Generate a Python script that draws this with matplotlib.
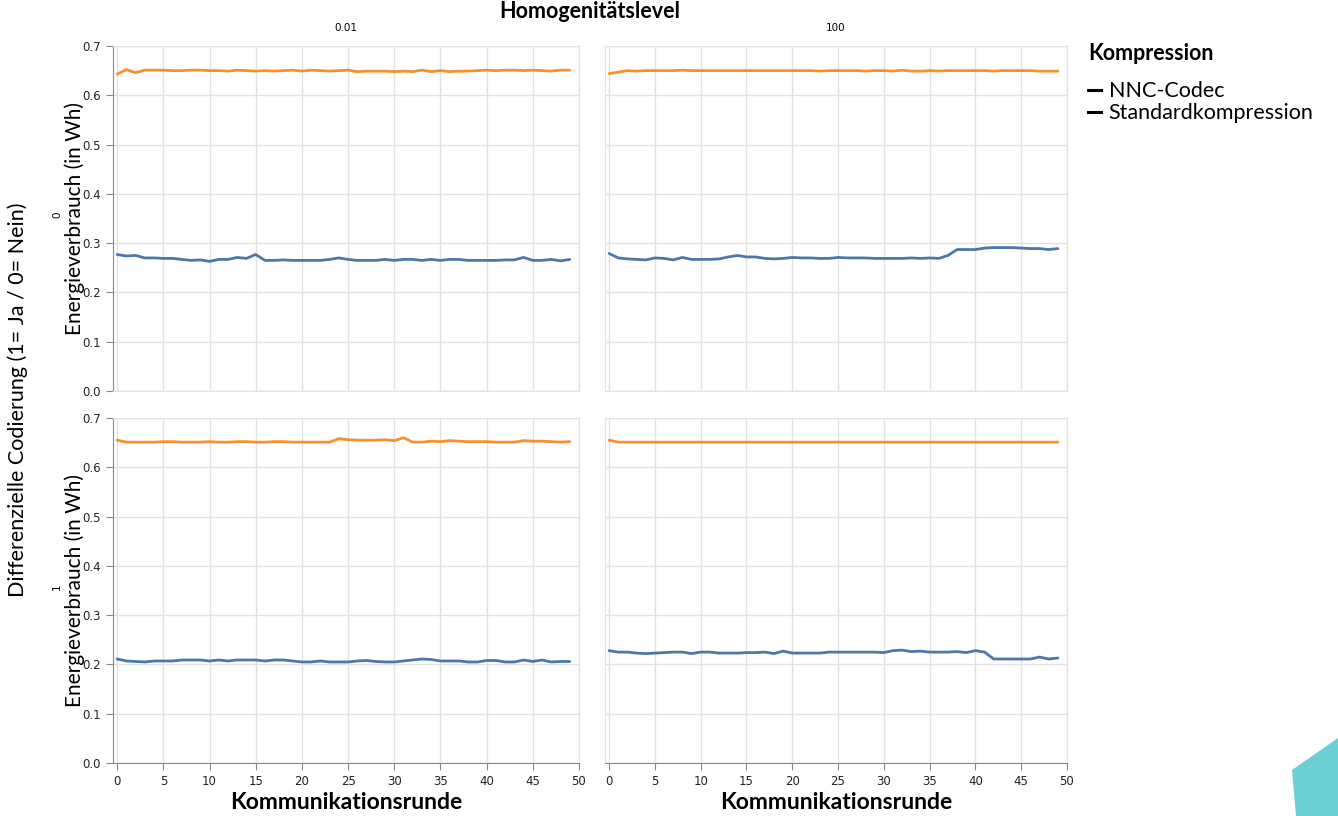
import matplotlib.pyplot as plt
import numpy as np
from matplotlib.lines import Line2D
from matplotlib.patches import Polygon

# Data
runden = np.arange(50)

# Homogenitaet 0.01, diff. Codierung 0
nnc_001_0 = [0.277, 0.274, 0.275, 0.270, 0.270, 0.269, 0.269, 0.267, 0.265, 0.266,
             0.263, 0.267, 0.267, 0.271, 0.269, 0.277, 0.265, 0.265, 0.266, 0.265,
             0.265, 0.265, 0.265, 0.267, 0.270, 0.267, 0.265, 0.265, 0.265, 0.267,
             0.265, 0.267, 0.267, 0.265, 0.267, 0.265, 0.267, 0.267, 0.265, 0.265,
             0.265, 0.265, 0.266, 0.266, 0.271, 0.265, 0.265, 0.267, 0.264, 0.267]
std_001_0 = [0.643, 0.652, 0.646, 0.651, 0.651, 0.651, 0.650, 0.650, 0.651, 0.651,
             0.650, 0.650, 0.649, 0.651, 0.650, 0.649, 0.650, 0.649, 0.650, 0.651,
             0.649, 0.651, 0.650, 0.649, 0.650, 0.651, 0.648, 0.649, 0.649, 0.649,
             0.648, 0.649, 0.648, 0.651, 0.648, 0.650, 0.648, 0.649, 0.649, 0.650,
             0.651, 0.650, 0.651, 0.651, 0.650, 0.651, 0.650, 0.649, 0.651, 0.651]

# Homogenitaet 100, diff. Codierung 0
nnc_100_0 = [0.279, 0.270, 0.268, 0.267, 0.266, 0.270, 0.269, 0.266, 0.271, 0.267,
             0.267, 0.267, 0.268, 0.272, 0.275, 0.272, 0.272, 0.269, 0.268, 0.269,
             0.271, 0.270, 0.270, 0.269, 0.269, 0.271, 0.270, 0.270, 0.270, 0.269,
             0.269, 0.269, 0.269, 0.270, 0.269, 0.270, 0.269, 0.275, 0.287, 0.287,
             0.287, 0.290, 0.291, 0.291, 0.291, 0.290, 0.289, 0.289, 0.287, 0.289]
std_100_0 = [0.644, 0.647, 0.650, 0.649, 0.650, 0.650, 0.650, 0.650, 0.651, 0.650,
             0.650, 0.650, 0.650, 0.650, 0.650, 0.650, 0.650, 0.650, 0.650, 0.650,
             0.650, 0.650, 0.650, 0.649, 0.650, 0.650, 0.650, 0.650, 0.649, 0.650,
             0.650, 0.649, 0.651, 0.649, 0.649, 0.650, 0.649, 0.650, 0.650, 0.650,
             0.650, 0.650, 0.649, 0.650, 0.650, 0.650, 0.650, 0.649, 0.649, 0.649]

# Homogenitaet 0.01, diff. Codierung 1
nnc_001_1 = [0.211, 0.207, 0.206, 0.205, 0.207, 0.207, 0.207, 0.209, 0.209, 0.209,
             0.207, 0.209, 0.207, 0.209, 0.209, 0.209, 0.207, 0.209, 0.209, 0.207,
             0.205, 0.205, 0.207, 0.205, 0.205, 0.205, 0.207, 0.208, 0.206, 0.205,
             0.205, 0.207, 0.209, 0.211, 0.210, 0.207, 0.207, 0.207, 0.205, 0.205,
             0.208, 0.208, 0.205, 0.205, 0.209, 0.206, 0.209, 0.205, 0.206, 0.206]
std_001_1 = [0.655, 0.651, 0.651, 0.651, 0.651, 0.652, 0.652, 0.651, 0.651, 0.651,
             0.652, 0.651, 0.651, 0.652, 0.652, 0.651, 0.651, 0.652, 0.652, 0.651,
             0.651, 0.651, 0.651, 0.651, 0.658, 0.656, 0.655, 0.655, 0.655, 0.656,
             0.654, 0.660, 0.651, 0.651, 0.653, 0.652, 0.654, 0.653, 0.652, 0.652,
             0.652, 0.651, 0.651, 0.651, 0.654, 0.653, 0.653, 0.652, 0.651, 0.652]

# Homogenitaet 100, diff. Codierung 1
nnc_100_1 = [0.228, 0.225, 0.225, 0.223, 0.222, 0.223, 0.224, 0.225, 0.225, 0.222,
             0.225, 0.225, 0.223, 0.223, 0.223, 0.224, 0.224, 0.225, 0.222, 0.227,
             0.223, 0.223, 0.223, 0.223, 0.225, 0.225, 0.225, 0.225, 0.225, 0.225,
             0.224, 0.228, 0.229, 0.226, 0.227, 0.225, 0.225, 0.225, 0.226, 0.224,
             0.228, 0.225, 0.211, 0.211, 0.211, 0.211, 0.211, 0.215, 0.211, 0.213]
std_100_1 = [0.655, 0.651, 0.651, 0.651, 0.651, 0.651, 0.651, 0.651, 0.651, 0.651,
             0.651, 0.651, 0.651, 0.651, 0.651, 0.651, 0.651, 0.651, 0.651, 0.651,
             0.651, 0.651, 0.651, 0.651, 0.651, 0.651, 0.651, 0.651, 0.651, 0.651,
             0.651, 0.651, 0.651, 0.651, 0.651, 0.651, 0.651, 0.651, 0.651, 0.651,
             0.651, 0.651, 0.651, 0.651, 0.651, 0.651, 0.651, 0.651, 0.651, 0.651]

homogen_labels = ["0.01", "100"]
codierung_labels = ["0", "1"]
series_names = ["NNC-Codec", "Standardkompression"]
panels = {
    (0, 0): (nnc_001_0, std_001_0),
    (0, 1): (nnc_100_0, std_100_0),
    (1, 0): (nnc_001_1, std_001_1),
    (1, 1): (nnc_100_1, std_100_1),
}

blue = "#4c78a8"
orange = "#f58518"
grid_c = "#e2e2e2"
axis_c = "#888888"
font = ["Lato", "DejaVu Sans"]

W, H = 1338, 816
fig = plt.figure(figsize=(W / 100, H / 100), dpi=100)


def px_axes(left, right, top, bottom):
    return fig.add_axes([left / W, 1 - bottom / H, (right - left) / W, (bottom - top) / H])


cols = [(113, 579), (605, 1067)]
rows = [(46, 391), (418, 763)]

for (r, c), (nnc, std) in panels.items():
    ax = px_axes(cols[c][0], cols[c][1], rows[r][0], rows[r][1])
    ax.plot(runden, std, color=orange, lw=2, alpha=0.9, solid_capstyle="round")
    ax.plot(runden, nnc, color=blue, lw=2, solid_capstyle="round")
    ax.set_xlim(-0.45, 50)
    ax.set_ylim(0, 0.7)
    ax.set_xticks(np.arange(0, 51, 5))
    ax.set_yticks(np.arange(0, 0.71, 0.1))
    ax.grid(True, color=grid_c, lw=1)
    ax.set_axisbelow(True)
    for s in ax.spines.values():
        s.set_color(grid_c)
    ax.tick_params(length=0, labelsize=8.5, colors="#222222")
    if c == 0:
        ax.spines["left"].set_color(axis_c)
        ax.tick_params(axis="y", length=5, color=axis_c)
        ax.set_yticklabels([f"{v:.1f}" for v in np.arange(0, 0.71, 0.1)])
        ax.set_ylabel("Energieverbrauch (in Wh)", fontsize=15, family=font)
        ax.yaxis.set_label_coords((85 - 113) / (579 - 113), 0.5)
    else:
        ax.set_yticklabels([])
    if r == 1:
        ax.spines["bottom"].set_color(axis_c)
        ax.tick_params(axis="x", length=5, color=axis_c)
        ax.set_xlabel("Kommunikationsrunde", fontsize=16.5, family=font,
                      fontweight="bold", labelpad=3)
    else:
        ax.set_xticklabels([])
    if r == 0:
        ax.set_title(homogen_labels[c], fontsize=7.5, pad=11)

# facet headers
fig.text(590 / W, 1 - 12 / H, "Homogenitätslevel", ha="center", va="center",
         fontsize=15.5, fontweight="bold", family=font)
fig.text(18 / W, 1 - 400 / H, "Differenzielle Codierung (1= Ja / 0= Nein)",
         rotation=90, ha="center", va="center", fontsize=15.5, family=font)
for r, lab in enumerate(codierung_labels):
    y_mid = (rows[r][0] + rows[r][1]) / 2
    fig.text(57 / W, 1 - (y_mid - 4) / H, lab, rotation=90, ha="center", va="center",
             fontsize=7.5)

# legend
handles = [Line2D([], [], color="black", lw=2.2) for _ in series_names]
leg = fig.legend(handles, series_names, title="Kompression", loc="upper left",
                 bbox_to_anchor=(1073 / W, 1 - 28 / H), frameon=False,
                 prop={"family": font, "size": 15.5}, handlelength=0.6,
                 handletextpad=0.35, labelspacing=0.1, borderpad=0.7,
                 borderaxespad=0)
leg.get_title().set_fontweight("bold")
leg.get_title().set_family(font)
leg.get_title().set_fontsize(15.5)
leg._legend_box.align = "left"
leg._legend_box.sep = 12.3

# decorative shape bottom right
fig.patches.append(Polygon([(1292 / W, 1 - 770 / H), (1.0, 1 - 738 / H), (1.0, 0.0),
                            (1296 / W, 0.0)], closed=True, transform=fig.transFigure,
                           facecolor="#6ccfd4", edgecolor="none"))

fig.savefig("out.png", dpi=100)
